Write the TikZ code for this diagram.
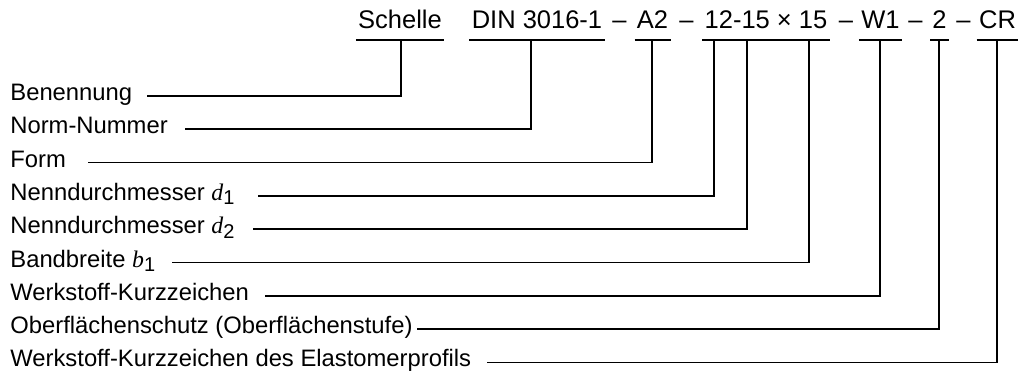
\documentclass[tikz,border=0pt]{standalone}
\usepackage{fontspec}
\setmainfont{Liberation Sans}
\newfontfamily\tmsfont{Liberation Serif}
\newcommand\symidx[2]{{\tmsfont\itshape #1}\raisebox{-0.35ex}{\fontsize{10}{11}\selectfont #2}}
\begin{document}
\begin{tikzpicture}[x=0.5pt,y=-0.5pt,
  lab/.style={anchor=base west,inner sep=0pt,font=\fontsize{11.9}{14}\selectfont},
  toptext/.style={anchor=base,inner xsep=1pt,inner ysep=0pt,font=\fontsize{12.75}{15}\selectfont},
  ln/.style={line width=0.85pt}]
\useasboundingbox (0,0) rectangle (1020,376);

% top designation
\coordinate (u) at (0,40);
\node[toptext] (t1) at (400,28) {Schelle};
\node[toptext] (t2) at (537,28) {DIN 3016-1};
\node[toptext] (m1) at (619.5,28) {–};
\node[toptext] (t3) at (652.5,28) {A2};
\node[toptext] (m2) at (686.5,28) {–};
\node[toptext] (t4) at (766,28) {12-15 × 15};
\node[toptext] (m3) at (846,28) {–};
\node[toptext] (t5) at (880.5,28) {W1};
\node[toptext] (m4) at (915.5,28) {–};
\node[toptext] (t6) at (939.5,28) {2};
\node[toptext] (m5) at (963.5,28) {–};
\node[toptext] (t7) at (997.5,28) {CR};

\foreach \n in {t1,t2,t3,t4,t5,t6,t7}
  \draw[ln] (\n.west |- u) -- (\n.east |- u);

% labels
\node[lab] (l1) at (10,100.5) {Benennung};
\node[lab] (l2) at (10,133.8) {Norm-Nummer};
\node[lab] (l3) at (10,167.1) {Form};
\node[lab] (l4) at (10,200.4) {Nenndurchmesser \symidx{d}{1}};
\node[lab] (l5) at (10,233.7) {Nenndurchmesser \symidx{d}{2}};
\node[lab] (l6) at (10,267) {Bandbreite \symidx{b}{1}};
\node[lab] (l7) at (10,300.3) {Werkstoff-Kurzzeichen};
\node[lab] (l8) at (10,333.6) {Oberflächenschutz (Oberflächenstufe)};
\node[lab] (l9) at (10,366.9) {Werkstoff-Kurzzeichen des Elastomerprofils};

% line start points
\coordinate (h1) at (147,96);
\coordinate (h2) at (185,129.3);
\coordinate (h3) at (88,162.6);
\coordinate (h4) at (258,195.9);
\coordinate (h5) at (253,229.2);
\coordinate (h6) at (172,262.5);
\coordinate (h7) at (265,295.8);
\coordinate (h8) at (417,329.1);
\coordinate (h9) at (487,362.4);

% vertical end points on underlines
\coordinate (v1) at (401,40);
\coordinate (v2) at (531,40);
\coordinate (v3) at (652,40);
\coordinate (v4) at (714,40);
\coordinate (v5) at (747,40);
\coordinate (v6) at (809,40);
\coordinate (v7) at (880,40);
\coordinate (v8) at (939,40);
\coordinate (v9) at (997,40);

\foreach \i in {1,...,9}
  \draw[ln] (h\i) -| (v\i);
\end{tikzpicture}
\end{document}
